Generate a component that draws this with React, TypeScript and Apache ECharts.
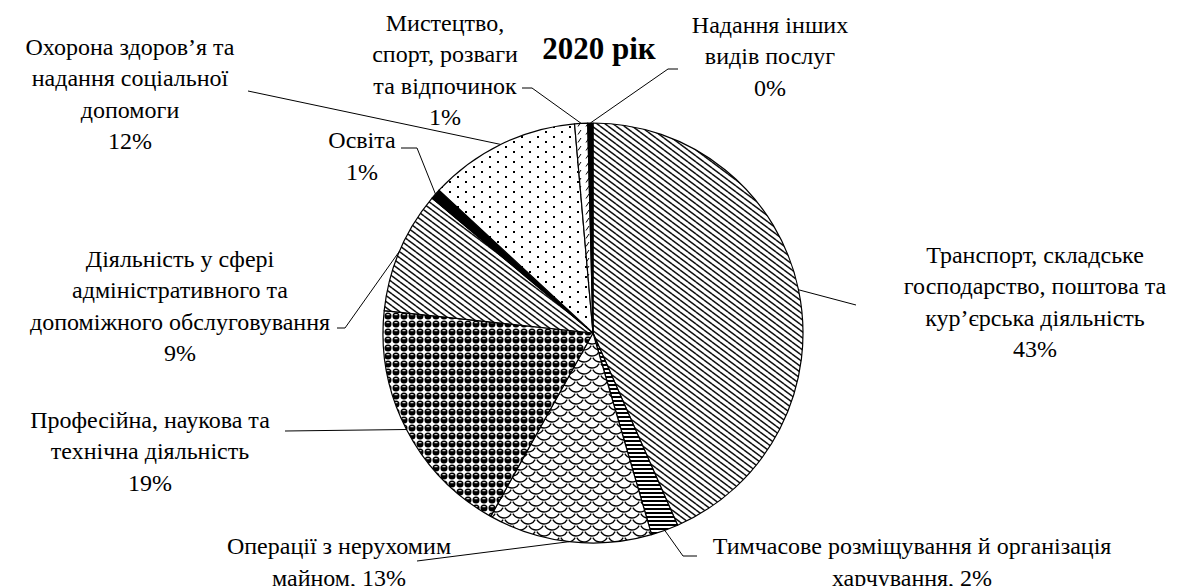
import React, { useEffect, useRef } from 'react';
import * as echarts from 'echarts';

const chartTitle = '2020 рік';

const categories = [
  'Транспорт, складське\nгосподарство, поштова та\nкур’єрська діяльність',
  'Тимчасове розміщування й організація\nхарчування',
  'Операції з нерухомим\nмайном',
  'Професійна, наукова та\nтехнічна діяльність',
  'Діяльність у сфері\nадміністративного та\nдопоміжного обслуговування',
  'Освіта',
  'Охорона здоров’я та\nнадання соціальної\nдопомоги',
  'Мистецтво,\nспорт, розваги\nта відпочинок',
  'Надання інших\nвидів послуг',
];

const values = [43.4, 2.1, 12.6, 18.6, 9.4, 0.8, 11.7, 1.0, 0.4];

const inlinePercent = [false, true, true, false, false, false, false, false, false];

const patternKinds = ['diag', 'horiz', 'shingle', 'sphere', 'diag', 'black', 'dots', 'dash', 'black'];

// layout: label block centers
const labelCenters = [
  [1035, 302],
  [912, 562],
  [339, 562],
  [150, 451],
  [180, 306],
  [362, 156],
  [130, 94],
  [445, 70],
  [770, 56],
];

// leader line points after the slice-edge point
const leaderTails = [
  [[856, 305]],
  [[683, 556], [697, 556]],
  [[417, 561]],
  [[285, 431]],
  [[345, 328], [337, 328]],
  [[417, 148], [401, 148]],
  [[248, 91]],
  [[532, 88], [522, 88]],
  [[668, 69], [678, 69]],
];

function makePattern(kind: string): any {
  if (kind === 'black') return '#000';
  const c = document.createElement('canvas');
  const ctx = c.getContext('2d') as CanvasRenderingContext2D;
  const setSize = (w: number, h: number) => {
    c.width = w;
    c.height = h;
    ctx.fillStyle = '#fff';
    ctx.fillRect(0, 0, w, h);
  };
  if (kind === 'diag') {
    const w = 8, h = 6;
    setSize(w, h);
    ctx.strokeStyle = '#111';
    ctx.lineWidth = 1.5;
    for (const [ox, oy] of [[0, 0], [-w, 0], [w, 0], [0, -h], [0, h]]) {
      ctx.beginPath();
      ctx.moveTo(ox, oy);
      ctx.lineTo(ox + w, oy + h);
      ctx.stroke();
    }
  } else if (kind === 'horiz') {
    setSize(4, 4);
    ctx.fillStyle = '#000';
    ctx.fillRect(0, 0, 4, 2);
  } else if (kind === 'shingle') {
    const w = 16, h = 12;
    setSize(w, h);
    ctx.strokeStyle = '#000';
    ctx.lineWidth = 1.3;
    const arcs = [[0, 0], [16, 0], [8, 6], [0, 12], [16, 12], [8, -6]];
    for (const [cx, cy] of arcs) {
      ctx.beginPath();
      ctx.arc(cx, cy, 8, 0.15 * Math.PI, 0.85 * Math.PI);
      ctx.stroke();
    }
  } else if (kind === 'sphere') {
    setSize(8, 8);
    ctx.fillStyle = '#000';
    ctx.beginPath();
    ctx.arc(4, 4, 3.5, 0, Math.PI * 2);
    ctx.fill();
    ctx.fillStyle = '#fff';
    ctx.fillRect(2.5, 2.2, 3, 1);
  } else if (kind === 'dots') {
    setSize(16, 10);
    ctx.fillStyle = '#000';
    ctx.fillRect(1, 1, 2, 2);
    ctx.fillRect(9, 6, 2, 2);
  } else if (kind === 'dash') {
    setSize(8, 8);
    ctx.strokeStyle = '#000';
    ctx.lineWidth = 1;
    ctx.beginPath();
    ctx.moveTo(2, 6.5);
    ctx.lineTo(5, 2);
    ctx.stroke();
  }
  return { image: c, repeat: 'repeat' };
}

export default function App() {
  const ref = useRef<HTMLDivElement>(null);
  useEffect(() => {
    if (!ref.current) return;
    const chart = echarts.init(ref.current, undefined, { renderer: 'svg' });
    const fontFamily = 'Liberation Serif, Times New Roman, serif';
    const data = categories.map((name, i) => ({
      name,
      value: values[i],
      itemStyle: { color: makePattern(patternKinds[i]) },
    }));
    chart.setOption({
      animation: false,
      backgroundColor: '#fff',
      textStyle: { fontFamily },
      title: {
        text: chartTitle,
        left: 594,
        top: 28,
        textAlign: 'center',
        textStyle: { fontFamily, fontSize: 31, fontWeight: 'bold', color: '#000' },
      },
      series: [
        {
          type: 'pie',
          silent: true,
          center: [593, 333],
          radius: 210,
          startAngle: 90,
          clockwise: true,
          avoidLabelOverlap: false,
          data,
          itemStyle: { borderColor: '#000', borderWidth: 1.2 },
          label: {
            show: true,
            position: 'outside',
            fontFamily,
            fontSize: 24,
            lineHeight: 31.5,
            color: '#000',
            align: 'center',
            formatter: (p: any) => {
              const pct = Math.round(p.percent) + '%';
              const text = inlinePercent[p.dataIndex] ? p.name + ', ' + pct : p.name + '\n' + pct;
              return text
                .split('\n')
                .map((line: string) => '{t|' + line + '}')
                .join('\n');
            },
            rich: {
              t: {
                fontFamily,
                fontSize: 24,
                lineHeight: 31.5,
                color: '#000',
                align: 'center',
              },
            },
          },
          labelLine: {
            show: true,
            length: 20,
            length2: 10,
            lineStyle: { color: '#000', width: 1 },
          },
          labelLayout: (params: any) => {
            const i = params.dataIndex;
            const p0 = params.labelLinePoints ? params.labelLinePoints[0] : [0, 0];
            const tail = leaderTails[i];
            return {
              x: labelCenters[i][0],
              y: labelCenters[i][1],
              align: 'center',
              verticalAlign: 'middle',
              labelLinePoints: tail.length === 1 ? [p0, tail[0], tail[0]] : [p0, ...tail],
            };
          },
        },
      ],
    });
    return () => chart.dispose();
  }, []);
  return (
    <div
      ref={ref}
      style={{ position: 'fixed', left: 0, top: 0, width: 1194, height: 586, background: '#fff' }}
    />
  );
}
